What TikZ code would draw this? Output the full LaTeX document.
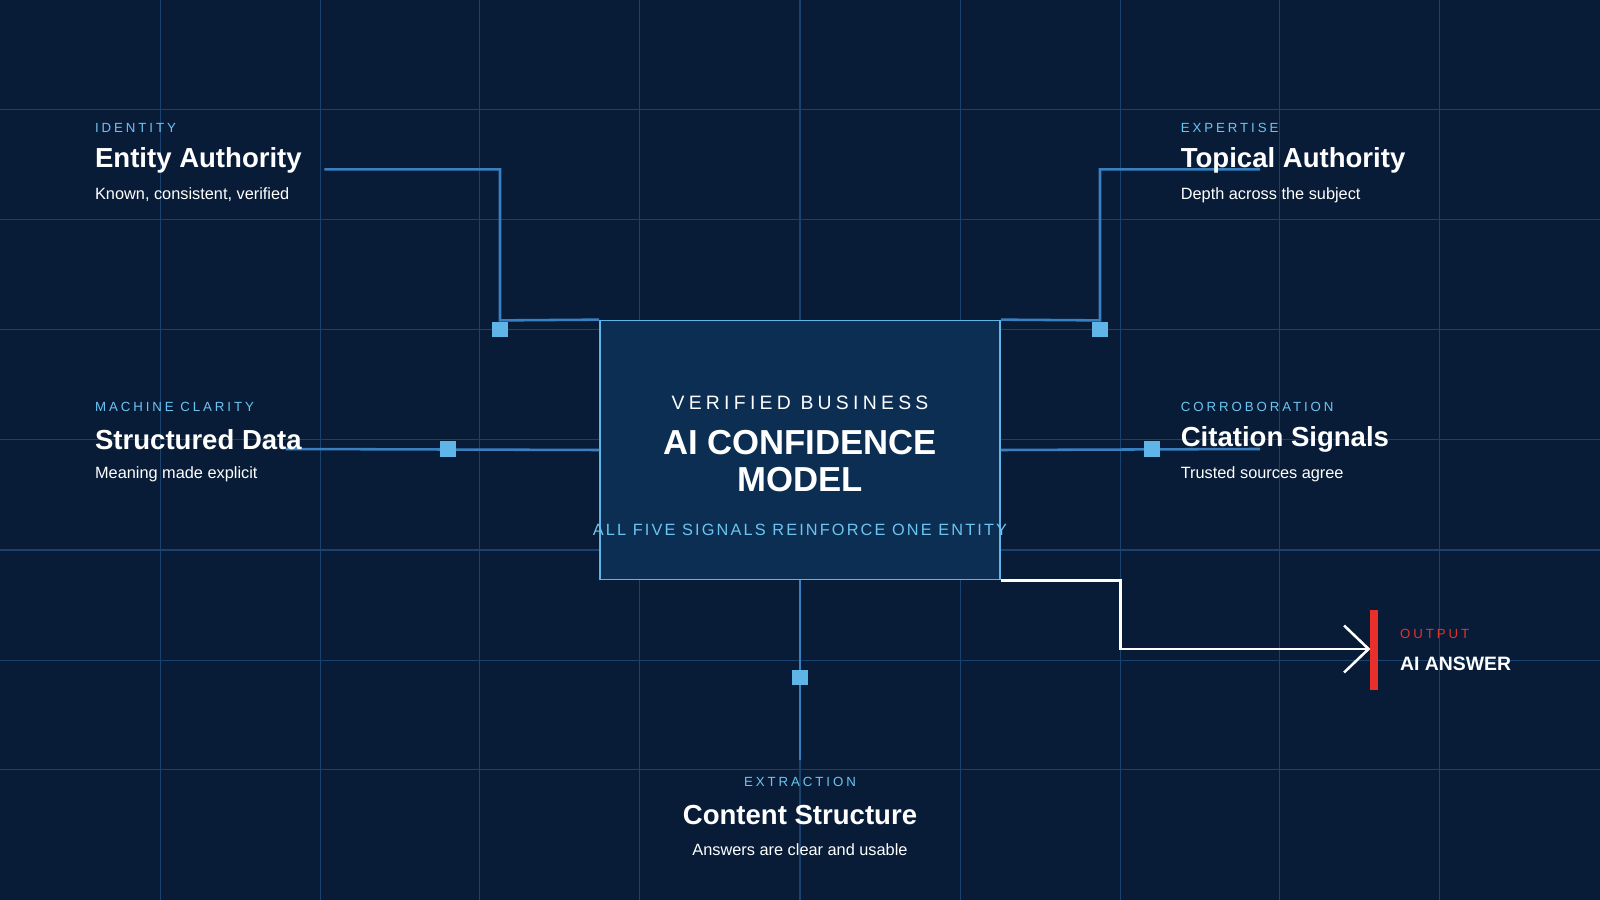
\documentclass[tikz,border=0pt]{standalone}
\usepackage{fontspec}
\setmainfont{Liberation Sans}
\usetikzlibrary{arrows.meta,positioning}
\definecolor{bgnavy}{HTML}{081C38}
\definecolor{gridblue}{HTML}{19426E}
\definecolor{boxfill}{HTML}{0C2E52}
\definecolor{edgeblue}{HTML}{5FB4E8}
\definecolor{wireblue}{HTML}{3A80C0}
\definecolor{capblue}{HTML}{6CC4F0}
\definecolor{outred}{HTML}{E8302A}
\tikzset{
  kicker/.style={text=capblue, font=\fontsize{13}{15}\selectfont\addfontfeature{LetterSpace=22}, inner sep=0pt},
  ttl/.style={text=white, font=\fontsize{27}{30}\selectfont\bfseries, inner sep=0pt},
  sub/.style={text=white, font=\fontsize{16}{18}\selectfont, inner sep=0pt},
  wire/.style={wireblue, line width=2.5pt},
  pad/.style={fill=edgeblue, minimum size=15pt, inner sep=0pt},
}
\begin{document}
\begin{tikzpicture}[x=1pt,y=-1pt]
  \fill[bgnavy] (0,0) rectangle (1568,882);
  \useasboundingbox (0,0) rectangle (1568,882);
  % grid
  \foreach \gx in {157,314,470,627,784,941,1098,1254,1411}
    \draw[gridblue, line width=1.3pt] (\gx,0) -- (\gx,882);
  \foreach \gy in {107,215,323,431,539,647,754}
    \draw[gridblue, line width=1.3pt] (0,\gy) -- (1568,\gy);

  % wires
  \coordinate (ea) at (318,166);
  \coordinate (ta) at (1235,166);
  \coordinate (sd) at (280,440);
  \coordinate (cs) at (1235,440);
  \coordinate (ct) at (784,745);
  \node[draw=edgeblue, fill=boxfill, line width=1.5pt, minimum width=392pt, minimum height=254pt] (model) at (784,441) {};
  \draw[wire] (ea) -| (490,314) -- (model.north west);
  \draw[wire] (ta) -| (1078,314) -- (model.north east);
  \draw[wire] (sd) -- (model.west);
  \draw[wire] (model.east) -- (cs);
  \draw[wire] (model.south) -- (ct);
  \node[pad] at (490,323) {};
  \node[pad] at (1078,323) {};
  \node[pad] at (439,440) {};
  \node[pad] at (1129,440) {};
  \node[pad] at (784,664) {};

  % centre texts
  \node[text=white, font=\fontsize{19}{21}\selectfont\addfontfeature{LetterSpace=22}] (vb) at (784,395) {VERIFIED BUSINESS};
  \node[ttl, font=\fontsize{34}{36}\selectfont\bfseries, align=center] (ai) at (784,452) {AI CONFIDENCE\\MODEL};
  \node[kicker, font=\fontsize{16}{18}\selectfont\addfontfeature{LetterSpace=13}] (all) at (784,519) {ALL FIVE SIGNALS REINFORCE ONE ENTITY};

  % signal labels
  \node[kicker, anchor=west] (c1) at (93,125) {IDENTITY};
  \node[ttl, anchor=west] (t1) at (93,157) {Entity Authority};
  \node[sub, anchor=west] (s1) at (93,191) {Known, consistent, verified};
  \node[kicker, anchor=west] (c2) at (1157,125) {EXPERTISE};
  \node[ttl, anchor=west] (t2) at (1157,157) {Topical Authority};
  \node[sub, anchor=west] (s2) at (1157,191) {Depth across the subject};
  \node[kicker, anchor=west] (c3) at (93,399) {MACHINE CLARITY};
  \node[ttl, anchor=west] (t3) at (93,431) {Structured Data};
  \node[sub, anchor=west] (s3) at (93,465) {Meaning made explicit};
  \node[kicker, anchor=west] (c4) at (1157,399) {CORROBORATION};
  \node[ttl, anchor=west] (t4) at (1157,431) {Citation Signals};
  \node[sub, anchor=west] (s4) at (1157,465) {Trusted sources agree};
  \node[kicker] (c5) at (784,766) {EXTRACTION};
  \node[ttl] (t5) at (784,799) {Content Structure};
  \node[sub] (s5) at (784,833) {Answers are clear and usable};

  % output
  \fill[outred] (1343,598) rectangle (1350,676);
  \coordinate (tip) at (1343,636);
  \draw[white, line width=2.5pt, -{Straight Barb[length=24pt, width=46pt, line width=2.5pt]}] (model.south east) -| (1098,636) -- (tip);
  \node[kicker, text=outred, anchor=west] (oc) at (1372,621) {OUTPUT};
  \node[sub, font=\fontsize{19}{21}\selectfont\bfseries, anchor=west] (oa) at (1372,651) {AI ANSWER};
\end{tikzpicture}
\end{document}
